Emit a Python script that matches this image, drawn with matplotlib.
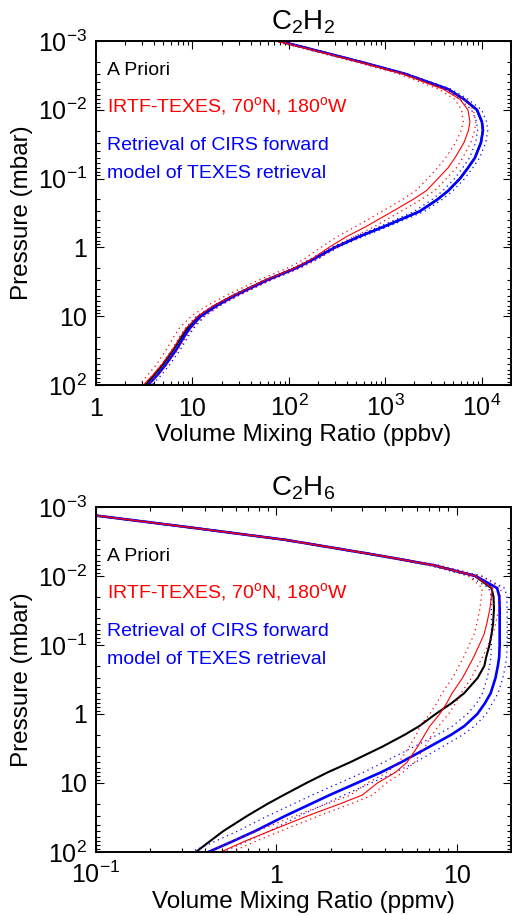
import numpy as np
import matplotlib.pyplot as plt
from matplotlib.ticker import LogLocator, FuncFormatter, NullFormatter

plt.rcParams['font.family'] = 'Liberation Sans'
plt.rcParams['mathtext.fontset'] = 'custom'
plt.rcParams['mathtext.rm'] = 'Liberation Sans'

# Pressure levels (mbar) shared by all the profiles
pressure = [1e-3, 2e-3, 3e-3, 5e-3, 7e-3, 1e-2, 1.5e-2, 2e-2, 3e-2, 5e-2,
            7e-2, 0.1, 0.15, 0.2, 0.3, 0.5, 0.7, 1, 1.5, 2,
            3, 5, 7, 10, 15, 20, 30, 50, 70, 100]

# C2H2 (ppbv)
c2h2_apriori = [78.8, 544, 1592, 4443, 6506, 8873, 10000, 10240, 9770, 8450,
                7160, 5918, 4474, 3474, 2256, 960, 528, 300, 175, 116,
                57, 26.5, 17.0, 11.6, 8.9, 7.7, 6.4, 4.95, 4.05, 3.25]
c2h2_texes = [75.1, 519, 1483, 3945, 5918, 7160, 7515, 7244, 6506, 5250,
              4443, 3499, 2653, 1941, 1182, 625, 393, 260, 169, 113,
              56.4, 26.3, 16.7, 11.4, 8.57, 7.51, 6.28, 4.83, 3.95, 3.1]
c2h2_texes_err = [0.08, 0.08, 0.08, 0.1, 0.12, 0.14, 0.15, 0.16, 0.18, 0.2,
                  0.22, 0.22, 0.22, 0.22, 0.22, 0.22, 0.2, 0.18, 0.16, 0.15,
                  0.15, 0.15, 0.15, 0.15, 0.15, 0.15, 0.14, 0.12, 0.12, 0.1]
c2h2_cirs = [78.8, 544, 1592, 4443, 6506, 8873, 10000, 10240, 9770, 8450,
             7160, 5918, 4474, 3474, 2256, 960, 528, 300, 177, 118,
             59, 27.6, 17.9, 12.2, 9.35, 8.17, 6.86, 5.31, 4.39, 3.46]
c2h2_cirs_err = [0.06, 0.06, 0.06, 0.08, 0.1, 0.12, 0.12, 0.12, 0.12, 0.12,
                 0.12, 0.12, 0.12, 0.12, 0.12, 0.1, 0.1, 0.08, 0.08, 0.08,
                 0.08, 0.08, 0.08, 0.1, 0.1, 0.1, 0.1, 0.1, 0.1, 0.1]

# C2H6 (ppmv)
c2h6_apriori = [0.042, 0.344, 1.13, 3.64, 7.49, 12.6, 15.6, 16.0, 16.1, 15.9,
                15.6, 15.2, 14.57, 14.24, 13.07, 11.0, 9.35, 7.65, 6.20, 5.15,
                3.85, 2.57, 1.93, 1.469, 1.096, 0.896, 0.689, 0.507, 0.428, 0.358]
c2h6_texes = [0.042, 0.344, 1.13, 3.64, 7.49, 12.66, 15.77, 15.57, 15.28, 14.66,
              14.18, 13.34, 12.42, 11.71, 10.77, 9.43, 8.80, 8.05, 7.10, 6.64,
              6.06, 5.31, 4.58, 3.64, 2.99, 2.26, 1.49, 0.915, 0.668, 0.493]
c2h6_texes_err = [0.05, 0.05, 0.05, 0.05, 0.06, 0.08, 0.12, 0.12, 0.12, 0.12,
                  0.12, 0.12, 0.12, 0.12, 0.12, 0.12, 0.12, 0.12, 0.12, 0.1,
                  0.1, 0.1, 0.1, 0.12, 0.14, 0.15, 0.15, 0.15, 0.15, 0.15]
c2h6_cirs = [0.042, 0.344, 1.13, 3.64, 7.49, 12.74, 16.76, 17.24, 17.31, 17.31,
             17.31, 17.31, 17.2, 16.92, 16.41, 15.43, 14.33, 13.02, 11.02, 9.32,
             7.04, 4.93, 3.81, 2.80, 1.97, 1.56, 1.12, 0.760, 0.573, 0.420]
c2h6_cirs_err = [0.05, 0.05, 0.05, 0.05, 0.06, 0.08, 0.1, 0.1, 0.1, 0.1,
                 0.1, 0.1, 0.1, 0.1, 0.1, 0.1, 0.1, 0.12, 0.14, 0.16,
                 0.18, 0.2, 0.2, 0.2, 0.2, 0.2, 0.2, 0.2, 0.2, 0.2]

legend_texts = ['A Priori',
                r'IRTF-TEXES, 70$^\mathregular{o}$N, 180$^\mathregular{o}$W',
                'Retrieval of CIRS forward',
                'model of TEXES retrieval']
legend_colors = ['black', '#ff0000', '#0000ff', '#0000ff']


def log_label(v, pos):
    e = int(round(np.log10(v)))
    if e == 0:
        return '1'
    if e == 1:
        return '10'
    return r'$\mathregular{10^{%d}}$' % e


def draw_panel(ax, apriori, texes, texes_err, cirs, cirs_err, xlim, title, xlabel, text_y):
    dots = (0, (1, 3))
    texes = np.array(texes)
    texes_err = np.array(texes_err)
    cirs = np.array(cirs)
    cirs_err = np.array(cirs_err)

    # a priori, then CIRS retrieval, then TEXES retrieval on top
    ax.plot(apriori, pressure, color='black', lw=1.5)
    ax.plot(cirs * (1 - cirs_err), pressure, color='#0000ff', lw=0.9, ls=dots)
    ax.plot(cirs * (1 + cirs_err), pressure, color='#0000ff', lw=0.9, ls=dots)
    ax.plot(cirs, pressure, color='#0000ff', lw=1.9)
    ax.plot(texes * (1 - texes_err), pressure, color='#ff0000', lw=0.9, ls=dots)
    ax.plot(texes * (1 + texes_err), pressure, color='#ff0000', lw=0.9, ls=dots)
    ax.plot(texes, pressure, color='#ff0000', lw=0.8)

    ax.set_xscale('log')
    ax.set_yscale('log')
    ax.set_xlim(xlim)
    ax.set_ylim(100, 1e-3)

    for axis in [ax.xaxis, ax.yaxis]:
        axis.set_major_locator(LogLocator(base=10, numticks=20))
        axis.set_minor_locator(LogLocator(base=10, subs=np.arange(2, 10), numticks=20))
        axis.set_major_formatter(FuncFormatter(log_label))
        axis.set_minor_formatter(NullFormatter())
    ax.tick_params(which='both', direction='in', top=True, right=True, width=0.8)
    ax.tick_params(which='major', length=6)
    ax.tick_params(which='minor', length=3)
    ax.tick_params(axis='x', labelsize=18, pad=22.5)
    ax.tick_params(axis='y', labelsize=18, pad=6.5)
    plt.setp(ax.get_xticklabels(), va='baseline')
    for s in ax.spines.values():
        s.set_linewidth(1.4)

    ax.set_title(title, fontsize=20, pad=8)
    ax.set_xlabel(xlabel, fontsize=17.5)
    ax.set_ylabel('Pressure (mbar)', fontsize=17.5)
    ax.xaxis.set_label_coords(0.5, -0.113)
    ax.yaxis.set_label_coords(-0.152, 0.5)

    for txt, col, y in zip(legend_texts, legend_colors, text_y):
        ax.text(0.0265, y, txt, color=col, fontsize=14, va='baseline',
                transform=ax.transAxes)


fig = plt.figure(figsize=(5.12, 9.15), dpi=100)
ax1 = fig.add_axes([0.1875, 0.5792, 0.8105, 0.376])
ax2 = fig.add_axes([0.1875, 0.0689, 0.8105, 0.377])

draw_panel(ax1, c2h2_apriori, c2h2_texes, c2h2_texes_err, c2h2_cirs, c2h2_cirs_err,
           (1, 2e4), r'$\mathregular{C_2H_2}$', 'Volume Mixing Ratio (ppbv)',
           [0.901, 0.792, 0.683, 0.603])
draw_panel(ax2, c2h6_apriori, c2h6_texes, c2h6_texes_err, c2h6_cirs, c2h6_cirs_err,
           (0.1, 20), r'$\mathregular{C_2H_6}$', 'Volume Mixing Ratio (ppmv)',
           [0.8435, 0.735, 0.627, 0.545])

fig.savefig('out.png', dpi=100)
